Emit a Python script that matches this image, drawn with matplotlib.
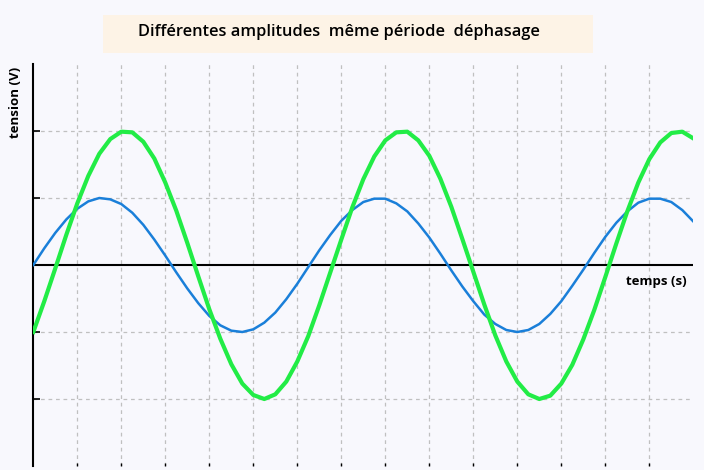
import numpy as np
import matplotlib.pyplot as plt
from matplotlib.patches import Rectangle

plt.rcParams['font.family'] = ['Open Sans', 'DejaVu Sans']

# temps (s), échantillonné tous les 0.25
temps = np.arange(0, 15.01, 0.25)

# tension de la courbe bleue (amplitude 1)
tension_bleue = [
    0.00, 0.25, 0.48, 0.68, 0.84, 0.95, 1.00, 0.98, 0.91, 0.78, 0.60, 0.38,
    0.14, -0.11, -0.35, -0.57, -0.76, -0.90, -0.98, -1.00, -0.96, -0.86,
    -0.71, -0.51, -0.28, -0.03, 0.22, 0.45, 0.66, 0.82, 0.94, 0.99, 0.99,
    0.92, 0.80, 0.62, 0.41, 0.17, -0.08, -0.32, -0.54, -0.74, -0.88, -0.97,
    -1.00, -0.97, -0.88, -0.73, -0.54, -0.31, -0.07, 0.18, 0.42, 0.63, 0.80,
    0.93, 0.99, 0.99, 0.94, 0.82, 0.65,
]

# tension de la courbe verte (amplitude 2, déphasée)
tension_verte = [
    -1.00, -0.54, -0.05, 0.45, 0.92, 1.33, 1.66, 1.88, 1.99, 1.98, 1.84,
    1.59, 1.23, 0.81, 0.33, -0.17, -0.66, -1.10, -1.48, -1.77, -1.94, -2.00,
    -1.93, -1.74, -1.44, -1.06, -0.60, -0.11, 0.38, 0.86, 1.28, 1.62, 1.86,
    1.98, 1.99, 1.86, 1.63, 1.29, 0.87, 0.39, -0.10, -0.59, -1.05, -1.44,
    -1.74, -1.93, -2.00, -1.95, -1.77, -1.49, -1.11, -0.67, -0.18, 0.32,
    0.80, 1.23, 1.58, 1.83, 1.97, 1.99, 1.89,
]

titre = "Différentes amplitudes  même période  déphasage"
fond = "#f8f8fd"

fig = plt.figure(figsize=(7.04, 4.70), dpi=100, facecolor=fond)
ax = fig.add_axes([0.0473, 0.0085, 0.9375, 0.8553])
ax.set_facecolor(fond)

ax.set_xlim(0, 15)
ax.set_ylim(-3, 3)

for s in ["top", "right", "bottom"]:
    ax.spines[s].set_visible(False)
ax.spines["left"].set_linewidth(1.5)

ax.set_xticks(range(1, 15))
ax.set_yticks([-2, -1, 1, 2])
ax.set_xticklabels([])
ax.set_yticklabels([])
ax.tick_params(axis="y", direction="in", length=5, width=1.2, color="black")
ax.tick_params(axis="x", direction="in", length=2, width=1, color="black")
ax.grid(True, linestyle=(0, (3, 3)), color="#c0c0c0", linewidth=0.9)

ax.plot([0, 15], [0, 0], color="black", linewidth=1.5, zorder=3)

ax.plot(temps, tension_bleue, color="#1a7fd9", linewidth=1.8, zorder=4)
ax.plot(temps, tension_verte, color="#22ec46", linewidth=3, zorder=5)

ax.text(14.15, -0.25, "temps (s)", ha="center", va="center",
        fontsize=9.5, fontweight="bold")
fig.text(0.022, 0.783, "tension (V)", rotation=90, ha="center", va="center",
         fontsize=9.5, fontweight="bold")

fig.patches.append(Rectangle((0.146, 0.887), 0.696, 0.081,
                             transform=fig.transFigure, facecolor="#fdf3e6",
                             edgecolor="none"))
fig.text(0.481, 0.932, titre, ha="center", va="center", fontsize=11.8,
         fontweight="semibold")

fig.savefig("out.png", dpi=100, facecolor=fond)
